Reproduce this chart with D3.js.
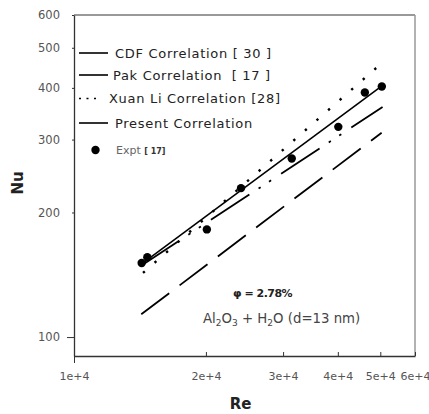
<!DOCTYPE html>
<html>
<head>
<meta charset="utf-8">
<script src="https://cdn.jsdelivr.net/npm/d3@7"></script>
<style>
  body { margin: 0; background: #fff; }
  svg { display: block; font-family: "DejaVu Sans", Verdana, sans-serif; }
  text { white-space: pre; }
</style>
</head>
<body>
<div id="chart"></div>
<script>
// axis ticks
var reTicks = [1e4, 2e4, 3e4, 4e4, 5e4, 6e4];
var reTickLabels = ["1e+4", "2e+4", "3e+4", "4e+4", "5e+4", "6e+4"];
var nuTicks = [100, 200, 300, 400, 500, 600];

// experimental points (Pak [17])
var exptRe = [14270, 14700, 20100, 24050, 31400, 40100, 46100, 50400];
var exptNu = [151, 156, 182, 229, 270, 322, 390, 403];

// correlations, end points
var cdfRe = [14240, 50350];
var cdfNu = [113.5, 311.7];
var pakRe = [14200, 50600];
var pakNu = [148.5, 359.6];
var xuanRe = [14370, 50600];
var xuanNu = [142.9, 460.9];
var presentRe = [14200, 50700];
var presentNu = [149.7, 406];

var legendNames = ["CDF Correlation [ 30 ]", "Pak Correlation  [ 17 ]", "Xuan Li Correlation [28]", "Present Correlation"];

var W = 429, H = 414;
var margin = {top: 15, right: 14, bottom: 58, left: 74},
    width = W - margin.left - margin.right,
    height = H - margin.top - margin.bottom;

var x = d3.scaleLog().domain([1e4, 6e4]).range([0, width]);
var y = d3.scaleLog().domain([90, 600]).range([height, 0]);

var svg = d3.select("#chart").append("svg")
  .attr("width", W).attr("height", H)
  .append("g")
  .attr("transform", "translate(" + margin.left + "," + margin.top + ")");

// frame (top + right in grey)
svg.append("line").attr("x1", 0).attr("x2", width).attr("y1", 0).attr("y2", 0)
  .attr("stroke", "#777").attr("stroke-width", 1.5);
svg.append("line").attr("x1", width).attr("x2", width).attr("y1", 0).attr("y2", height)
  .attr("stroke", "#999").attr("stroke-width", 1.5);

// x axis
var xAxis = d3.axisBottom(x).tickValues(reTicks).tickSizeInner(0).tickSizeOuter(0)
  .tickFormat(function (d, i) { return reTickLabels[i]; }).tickPadding(16);
var gx = svg.append("g").attr("transform", "translate(0," + height + ")").call(xAxis);
gx.select(".domain").attr("stroke", "#333").attr("stroke-width", 1.3);
gx.selectAll(".tick line").remove();
gx.selectAll(".tick").append("line")
  .attr("y1", function (d) { return d === 1e4 ? 7 : 0; })
  .attr("y2", function (d) { return d === 1e4 ? 0 : -4; })
  .attr("stroke", "#333");
gx.selectAll("text").attr("font-size", 11).attr("fill", "#555")
  .attr("font-family", "DejaVu Sans, sans-serif");

// y axis
var yAxis = d3.axisLeft(y).tickValues(nuTicks).tickSizeInner(0).tickSizeOuter(0)
  .tickFormat(d3.format("d")).tickPadding(14);
var gy = svg.append("g").call(yAxis);
gy.select(".domain").attr("stroke", "#333").attr("stroke-width", 1.3);
gy.selectAll(".tick line").remove();
gy.selectAll(".tick").append("line")
  .attr("x1", function (d) { return d === 100 ? -7 : -2; })
  .attr("x2", 0).attr("stroke", "#333");
gy.selectAll("text").attr("font-size", 11.5).attr("fill", "#555")
  .attr("font-family", "DejaVu Sans, sans-serif");

// axis labels
svg.append("text").attr("x", x(2.4e4)).attr("y", height + 53)
  .attr("text-anchor", "middle").attr("font-size", 15).attr("font-weight", "bold")
  .attr("fill", "#222").text("Re");
svg.append("text").attr("transform", "translate(-51,168) rotate(-90)")
  .attr("text-anchor", "middle").attr("font-size", 15).attr("font-weight", "bold")
  .attr("fill", "#222").text("Nu");

// correlation lines
var series = [
  {re: cdfRe, nu: cdfNu, dash: "35,13", w: 1.8},
  {re: pakRe, nu: pakNu, dash: "46,11,2.5,10,2.5,12", w: 1.8},
  {re: xuanRe, nu: xuanNu, dash: "2.4,13", w: 2.4},
  {re: presentRe, nu: presentNu, dash: null, w: 1.6}
];

var line = d3.line()
  .x(function (d) { return x(d[0]); })
  .y(function (d) { return y(d[1]); });

series.forEach(function (s) {
  svg.append("path")
    .datum(d3.zip(s.re, s.nu))
    .attr("d", line)
    .attr("fill", "none")
    .attr("stroke", "#000")
    .attr("stroke-width", s.w)
    .attr("stroke-dasharray", s.dash);
});

// experimental points
svg.selectAll("circle.expt")
  .data(d3.zip(exptRe, exptNu))
  .enter()
  .append("circle")
  .attr("class", "expt")
  .attr("cx", function (d) { return x(d[0]); })
  .attr("cy", function (d) { return y(d[1]); })
  .attr("r", 4.2)
  .attr("fill", "#000");

// legend
var legY = [38, 60, 83.5, 108];
var legTextX = [41, 39, 35, 41];
series.forEach(function (s, i) {
  var dotted = i === 2;
  svg.append("line")
    .attr("x1", 5).attr("x2", dotted ? 22 : 34)
    .attr("y1", legY[i]).attr("y2", legY[i])
    .attr("stroke", "#000").attr("stroke-width", 1.6)
    .attr("stroke-dasharray", dotted ? "2,5.5" : null);
  svg.append("text")
    .attr("x", legTextX[i]).attr("y", legY[i] + 4.5)
    .attr("font-size", 13).attr("letter-spacing", 0.7).attr("fill", "#222")
    .text(legendNames[i]);
});
svg.append("circle").attr("cx", 21.5).attr("cy", 135).attr("r", 4.2).attr("fill", "#000");
var et = svg.append("text").attr("x", 42).attr("y", 139).attr("fill", "#666").attr("font-size", 11);
et.append("tspan").text("Expt ");
et.append("tspan").attr("font-size", 8).attr("font-weight", "bold").attr("fill", "#333").text("[ 17]");

// annotations
svg.append("text").attr("x", 159).attr("y", 282)
  .attr("font-size", 11).attr("font-weight", "bold").attr("fill", "#222")
  .attr("letter-spacing", -0.5).text("\u03c6 = 2.78%");
var ann = svg.append("text").attr("x", 129).attr("y", 308)
  .attr("font-size", 13.3).attr("fill", "#444");
ann.append("tspan").text("Al");
ann.append("tspan").attr("font-size", 9).attr("dy", 3).text("2");
ann.append("tspan").attr("dy", -3).text("O");
ann.append("tspan").attr("font-size", 9).attr("dy", 3).text("3");
ann.append("tspan").attr("dy", -3).text(" + H");
ann.append("tspan").attr("font-size", 9).attr("dy", 3).text("2");
ann.append("tspan").attr("dy", -3).text("O (d=13 nm)");
</script>
</body>
</html>
